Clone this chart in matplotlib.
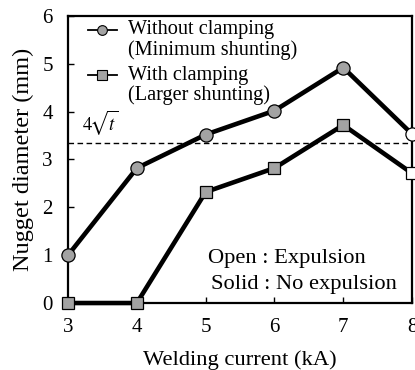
import matplotlib
matplotlib.use('Agg')
import matplotlib.pyplot as plt

# welding current (kA)
current = [3, 4, 5, 6, 7, 8]
# nugget diameter (mm)
without_clamp = [1.0, 2.82, 3.52, 4.02, 4.92, 3.53]
with_clamp = [0.0, 0.0, 2.32, 2.82, 3.72, 2.71]
# last point of each series is open (expulsion)
expulsion = [False, False, False, False, False, True]
limit_4sqrt_t = 3.35

plt.rcParams['font.family'] = ['Liberation Serif', 'DejaVu Serif']
plt.rcParams['mathtext.fontset'] = 'stix'
plt.rcParams['font.size'] = 14

gray = '#a3a3a3'
fig = plt.figure(figsize=(4.15, 3.7), dpi=100)
ax = fig.add_axes([0.164, 0.181, 0.829, 0.776])

ax.axhline(limit_4sqrt_t, color='k', lw=1.0, ls=(0, (4, 2.5)), zorder=1)

for y, mk in [(without_clamp, 'o'), (with_clamp, 's')]:
    ax.plot(current, y, color='k', lw=3.3, zorder=2, clip_on=False)
    for xi, yi, op in zip(current, y, expulsion):
        ax.plot(xi, yi, marker=mk, ms=9.5 if mk == 'o' else 9,
                mfc='white' if op else gray, mec='k', mew=0.9,
                zorder=3, clip_on=False)

ax.text(3.2, 3.46, r'$4\!\sqrt{t}$', fontsize=13.5, ha='left', va='bottom')

# legend drawn by hand so the handle sits on the first text line
for ly, mk, l1, l2 in [(0.951, 'o', 'Without clamping', '(Minimum shunting)'),
                       (0.794, 's', 'With clamping', '(Larger shunting)')]:
    ax.plot([0.058, 0.142], [ly, ly], color='k', lw=1.3, transform=ax.transAxes)
    ax.plot([0.10], [ly], marker=mk, ms=7, mfc=gray, mec='k', mew=0.8,
            transform=ax.transAxes)
    ax.text(0.174, ly, l1, fontsize=14.6, transform=ax.transAxes,
            va='center', ha='left')
    ax.text(0.174, ly - 0.07, l2, fontsize=14.6, transform=ax.transAxes,
            va='center', ha='left')

ax.text(0.408, 0.155, 'Open : Expulsion', fontsize=16.2,
        transform=ax.transAxes, va='center')
ax.text(0.416, 0.066, 'Solid : No expulsion', fontsize=16.2,
        transform=ax.transAxes, va='center')

ax.set_xlim(3, 8)
ax.set_ylim(0, 6)
ax.set_xticks(current)
ax.set_yticks(range(0, 7))
ax.tick_params(direction='in', length=4, width=1, pad=11, labelsize=15)
for s in ax.spines.values():
    s.set_linewidth(1.6)

ax.set_xlabel('Welding current (kA)', fontsize=16.2, labelpad=9)
ax.set_ylabel('Nugget diameter (mm)', fontsize=17.5, labelpad=6)

fig.savefig('out.png', dpi=100)
